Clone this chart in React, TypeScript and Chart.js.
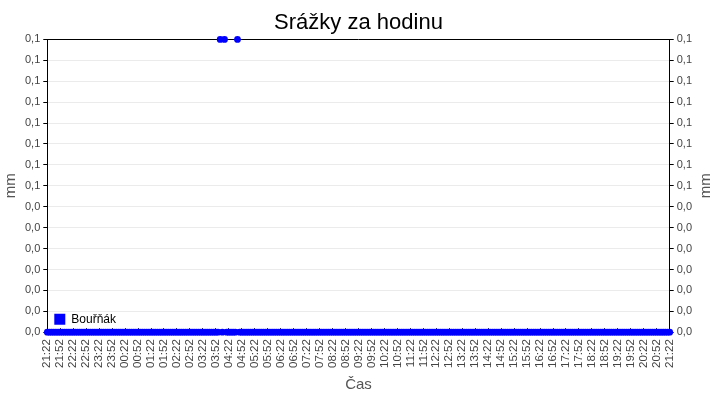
import { useEffect, useRef } from 'react';
import { Chart, ChartConfiguration, registerables } from 'chart.js';

Chart.register(...registerables);

const title = 'Srážky za hodinu';
const seriesName = 'Bouřňák';
const yTitle = 'mm';
const xTitle = 'Čas';
const startMinute = 21 * 60 + 22; // 21:22
const stepMinutes = 5;
const spanMinutes = 1440;
const tickStep = 30;
const yMax = 0.1;
const yTickCount = 15;

// hourly rain, one reading every 5 min from 21:22 to 21:22 next day (one row = 1 h)
const rain: number[] = [
  0, 0, 0, 0, 0, 0, 0, 0, 0, 0, 0, 0, // 21:22
  0, 0, 0, 0, 0, 0, 0, 0, 0, 0, 0, 0, // 22:22
  0, 0, 0, 0, 0, 0, 0, 0, 0, 0, 0, 0, // 23:22
  0, 0, 0, 0, 0, 0, 0, 0, 0, 0, 0, 0, // 00:22
  0, 0, 0, 0, 0, 0, 0, 0, 0, 0, 0, 0, // 01:22
  0, 0, 0, 0, 0, 0, 0, 0, 0, 0, 0, 0, // 02:22
  0, 0, 0, 0, 0, 0, 0, 0, 0.1, 0, 0.1, 0, // 03:22
  0, 0, 0, 0, 0.1, 0, 0, 0, 0, 0, 0, 0, // 04:22
  0, 0, 0, 0, 0, 0, 0, 0, 0, 0, 0, 0, // 05:22
  0, 0, 0, 0, 0, 0, 0, 0, 0, 0, 0, 0, // 06:22
  0, 0, 0, 0, 0, 0, 0, 0, 0, 0, 0, 0, // 07:22
  0, 0, 0, 0, 0, 0, 0, 0, 0, 0, 0, 0, // 08:22
  0, 0, 0, 0, 0, 0, 0, 0, 0, 0, 0, 0, // 09:22
  0, 0, 0, 0, 0, 0, 0, 0, 0, 0, 0, 0, // 10:22
  0, 0, 0, 0, 0, 0, 0, 0, 0, 0, 0, 0, // 11:22
  0, 0, 0, 0, 0, 0, 0, 0, 0, 0, 0, 0, // 12:22
  0, 0, 0, 0, 0, 0, 0, 0, 0, 0, 0, 0, // 13:22
  0, 0, 0, 0, 0, 0, 0, 0, 0, 0, 0, 0, // 14:22
  0, 0, 0, 0, 0, 0, 0, 0, 0, 0, 0, 0, // 15:22
  0, 0, 0, 0, 0, 0, 0, 0, 0, 0, 0, 0, // 16:22
  0, 0, 0, 0, 0, 0, 0, 0, 0, 0, 0, 0, // 17:22
  0, 0, 0, 0, 0, 0, 0, 0, 0, 0, 0, 0, // 18:22
  0, 0, 0, 0, 0, 0, 0, 0, 0, 0, 0, 0, // 19:22
  0, 0, 0, 0, 0, 0, 0, 0, 0, 0, 0, 0, // 20:22
  0, // 21:22
];

const FONT = "'Liberation Sans', Arial, sans-serif";
const BLUE = '#0000ff';
const AXIS_TITLE_COLOR = '#555';
const AXIS_TITLE_SIZE = 15;

const fmtTime = (m: number) => {
  const t = (startMinute + m) % 1440;
  const h = Math.floor(t / 60);
  const mm = t % 60;
  return `${String(h).padStart(2, '0')}:${String(mm).padStart(2, '0')}`;
};

const fmtMm = (v: number) => v.toFixed(1).replace('.', ',');

// legend with position 'chartArea' forgets the chart area's top offset
const legendInArea = {
  id: 'legendInArea',
  afterLayout(chart: any) {
    const l = chart.legend;
    if (!l) return;
    l.top = chart.chartArea.top;
    l.bottom = chart.chartArea.bottom;
  },
};

// right axis title reads bottom-to-top like the left one
const rightTitle = {
  id: 'rightTitle',
  afterDraw(chart: any) {
    const s = chart.scales.y2;
    if (!s) return;
    const c = chart.ctx;
    c.save();
    c.translate(s.right - 2 - AXIS_TITLE_SIZE * 0.6, (chart.chartArea.top + chart.chartArea.bottom) / 2);
    c.rotate(-Math.PI / 2);
    c.fillStyle = AXIS_TITLE_COLOR;
    c.font = `${AXIS_TITLE_SIZE}px ${FONT}`;
    c.textAlign = 'center';
    c.textBaseline = 'middle';
    c.fillText(yTitle, 0, 0);
    c.restore();
  },
};

const App = () => {
  const chartRef = useRef<HTMLCanvasElement>(null);

  useEffect(() => {
    document.body.style.margin = '0';
    if (!chartRef.current) return;
    const ctx = chartRef.current.getContext('2d');
    if (!ctx) return;

    const yAxis = (position: 'left' | 'right') => ({
      type: 'linear' as const,
      position,
      min: 0,
      max: yMax,
      title: {
        display: true,
        text: yTitle,
        color: position === 'left' ? AXIS_TITLE_COLOR : 'rgba(0,0,0,0)',
        font: { family: FONT, size: AXIS_TITLE_SIZE },
        padding: 2,
      },
      ticks: {
        count: yTickCount,
        color: '#444',
        font: { family: FONT, size: 11 },
        padding: 3,
        callback: (v: number | string) => fmtMm(Number(v)),
      },
      grid: {
        color: position === 'left' ? '#ebebeb' : 'rgba(0,0,0,0)',
        tickColor: '#000',
        tickLength: 4,
      },
      border: { color: '#000', width: 1 },
    });

    const config: ChartConfiguration<'scatter'> = {
      type: 'scatter',
      data: {
        datasets: [{
          label: seriesName,
          data: rain.map((v, i) => ({ x: i * stepMinutes, y: v })),
          backgroundColor: BLUE,
          borderColor: BLUE,
          pointRadius: 3.4,
          pointBorderWidth: 0,
          showLine: false,
          clip: false,
        }],
      },
      options: {
        animation: false,
        responsive: false,
        layout: { padding: { left: 0, right: 3, top: 0, bottom: 6 } },
        plugins: {
          title: {
            display: true,
            text: title,
            color: '#000',
            font: { family: FONT, size: 22, weight: 'normal' },
            padding: { top: 10, bottom: 3 },
          },
          legend: {
            position: 'chartArea',
            align: 'end',
            labels: {
              boxWidth: 11,
              boxHeight: 11,
              color: '#000',
              font: { family: FONT, size: 12 },
              padding: 7,
            },
          },
          tooltip: { enabled: false },
        },
        scales: {
          x: {
            type: 'linear',
            min: 0,
            max: spanMinutes,
            title: {
              display: true,
              text: xTitle,
              color: AXIS_TITLE_COLOR,
              font: { family: FONT, size: AXIS_TITLE_SIZE },
              padding: { top: -3, bottom: 0 },
            },
            ticks: {
              stepSize: tickStep,
              autoSkip: false,
              maxRotation: 90,
              minRotation: 90,
              color: '#444',
              font: { family: FONT, size: 11.5 },
              padding: 11,
              callback: (v: number | string) => fmtTime(Number(v)),
            },
            grid: { drawOnChartArea: false, tickColor: '#000', tickLength: -4 },
            border: { color: '#000' },
          },
          x2: {
            type: 'linear',
            position: 'top',
            min: 0,
            max: spanMinutes,
            ticks: { display: false },
            grid: { drawOnChartArea: false, drawTicks: false },
            border: { color: '#000' },
          },
          y: yAxis('left'),
          y2: yAxis('right'),
        },
      },
      plugins: [legendInArea, rightTitle],
    };

    const chart = new Chart(ctx, config as any);
    return () => chart.destroy();
  }, []);

  return (
    <div style={{ width: 720, height: 400, background: '#fff' }}>
      <canvas ref={chartRef} width={720} height={400}></canvas>
    </div>
  );
};

export default App;
